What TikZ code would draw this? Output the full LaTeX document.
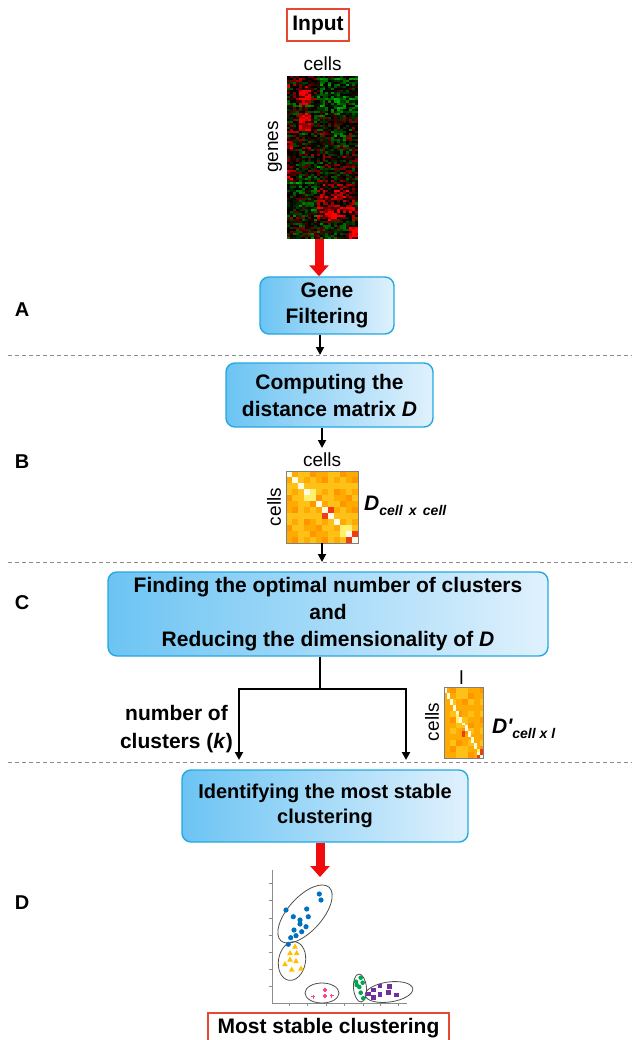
\documentclass[tikz,border=0pt]{standalone}
\usepackage{fontspec}
\setmainfont{Liberation Sans}
\usetikzlibrary{arrows.meta}

% palette
\definecolor{boxedge}{RGB}{36,168,224}
\definecolor{boxleft}{RGB}{108,196,243}
\definecolor{boxright}{RGB}{224,241,253}
\definecolor{frameRed}{RGB}{230,72,48}
\definecolor{arrowRed}{RGB}{240,12,12}
\definecolor{sepGray}{RGB}{140,140,140}
\definecolor{axisGray}{RGB}{140,140,140}
\definecolor{ringGray}{RGB}{80,80,80}
\definecolor{ptBlue}{RGB}{0,112,192}
\definecolor{ptYellow}{RGB}{255,192,0}
\definecolor{ptPink}{RGB}{255,70,120}
\definecolor{ptGreen}{RGB}{0,166,80}
\definecolor{ptPurple}{RGB}{112,48,160}
\definecolor{dOrange}{RGB}{255,170,0}
\definecolor{dLight}{RGB}{255,192,24}
\definecolor{dDark}{RGB}{255,150,0}
\definecolor{dYellow}{RGB}{255,240,110}
\definecolor{dWhite}{RGB}{255,251,228}
\definecolor{dRed}{RGB}{240,60,20}

\tikzset{
  stepbox/.style={draw=boxedge, line width=1.4pt, rounded corners=9pt,
    left color=boxleft, right color=boxright, align=center, inner sep=0pt},
  frame/.style={draw=frameRed, line width=1.3pt, inner sep=0pt,
    font=\bfseries\fontsize{21}{21}\selectfont},
  frameline/.style={frameRed, line width=1.3pt},
  flow/.style={line width=1.8pt, -{Triangle[width=8pt,length=8pt]}},
  branch/.style={line width=2.2pt},
  fat/.style={arrowRed, line width=9pt, -{Triangle[width=19pt,length=11pt]}},
  sep/.style={sepGray, line width=0.9pt, dash pattern=on 4pt off 3pt},
  panel/.style={font=\bfseries\fontsize{20}{20}\selectfont, inner sep=0pt},
  axislabel/.style={font=\fontsize{19}{19}\selectfont, inner sep=0pt},
  matname/.style={anchor=base west, inner sep=0pt, font=\bfseries\itshape\fontsize{21}{21}\selectfont},
  axis/.style={axisGray, line width=0.8pt},
  ring/.style={ringGray, line width=0.8pt},
}

\begin{document}
\begin{tikzpicture}[x=1pt,y=-1pt]
\useasboundingbox (0,0) rectangle (632,1040);

% section separators
\foreach \yy in {355,562,762} \draw[sep] (8,\yy) -- (632,\yy);

% section letters
\node[panel] (pA) at (22,310) {A};
\node[panel] (pB) at (22,462) {B};
\node[panel] (pC) at (22,603) {C};
\node[panel] (pD) at (22,903) {D};

% input
\node[frame, minimum width=62pt, minimum height=32pt] (input) at (318,25) {Input};
\node[axislabel] (hcells) at (322.5,64) {cells};
\node[axislabel, rotate=90] (hgenes) at (275,147) {genes};

% expression heat map
\node[inner sep=0pt, minimum width=71pt, minimum height=163pt] (heat) at (322.5,157.5) {};
\begin{scope}
\clip (287,76) rectangle (358,239);
\pgfmathsetseed{11}
\foreach \j in {0,...,79}{
  \pgfmathsetmacro\rl{0.45*(rnd-0.5)}
  \pgfmathsetmacro\rr{0.45*(rnd-0.5)}
  \foreach \i in {0,...,23}{
    \pgfmathsetmacro\b{0.2*(\i<10)*(\j<13)
      +0.85*(\i>3)*(\i<8)*(\j>6)*(\j<14)
      +0.85*(\i>3)*(\i<8)*(\j>17)*(\j<27)
      +0.6*(\i<2)*(\j>31)*(\j<37)
      +0.6*(\i<2)*(\j>43)*(\j<51)
      -0.3*(\i>9)*(\j<17)
      -0.4*(\i>14)*(\i<20)*(\j>26)*(\j<32)
      -0.25*(\i<10)*(\j>49)*(\j<69)
      +0.35*(\i>9)*(\i<23)*(\j>52)*(\j<71)
      +1.0*(\i>20)*(\j>73)
      +0.7*(\i>13)*(\i<17)*(\j>66)*(\j<71)
      -0.6*(\i>9)*(\i<12)*(\j>41)*(\j<45)}
    \pgfmathsetmacro\v{\b+(\i<10)*(\rl)+(\i>9)*(\rr)+1.1*(rnd-0.5)}
    \pgfmathsetmacro\rc{min(1,1.1*max(0,\v-0.06))}
    \pgfmathsetmacro\gc{0.7*min(1,1.1*max(0,-\v-0.06))}
    \definecolor{hm}{rgb}{\rc,\gc,0}
    \fill[hm] ({287+2.96*\i},{76+2.04*\j}) rectangle ++(3.3,2.4);
  }
}
\end{scope}

% step A
\node[stepbox, minimum width=134pt, minimum height=57pt,
  font=\bfseries\fontsize{21}{26}\selectfont] (gf) at (327,305.5) {Gene\\Filtering};
\coordinate (redIn) at (319,277);
\draw[fat] (heat.south -| redIn) -- (redIn |- gf.north);
\coordinate (sepA) at (320,355);
\draw[flow] (gf.south -| sepA) -- (sepA);

% step B
\node[stepbox, minimum width=207pt, minimum height=64pt,
  font=\bfseries\fontsize{21}{27}\selectfont] (comp) at (329.5,395)
  {Computing the\\distance matrix \textit{D}};
\coordinate (dIn) at (322,448);
\draw[flow] (comp.south -| dIn) -- (dIn);

\node[axislabel] (dcellsT) at (322,460) {cells};
\node[axislabel, rotate=90] (dcellsL) at (274,507) {cells};
\node[inner sep=0pt, minimum size=72pt] (dmat) at (322,507) {};
\foreach \i in {0,...,11}{
  \foreach \j in {0,...,11}{
    \pgfmathtruncatemacro\h{mod(3*(\i+\j)+\i*\j,5)}
    \pgfmathtruncatemacro\key{\i*100+\j}
    \edef\cc{\ifcase\h dOrange\or dLight\or dDark\or dOrange\else dLight\fi}
    \ifnum\i=\j \def\cc{dWhite}\fi
    \ifnum\key=404 \def\cc{dYellow}\fi
    \ifnum\key=909 \def\cc{dYellow}\fi
    \ifnum\key=304 \def\cc{dYellow}\fi
    \ifnum\key=403 \def\cc{dYellow}\fi
    \ifnum\key=910 \def\cc{dYellow}\fi
    \ifnum\key=1009 \def\cc{dYellow}\fi
    \ifnum\key=706 \def\cc{dRed}\fi
    \ifnum\key=607 \def\cc{dRed}\fi
    \ifnum\key=1110 \def\cc{dRed}\fi
    \ifnum\key=1011 \def\cc{dRed}\fi
    \fill[\cc] ({286+6*\i},{471+6*\j}) rectangle ++(6,6);
  }
}
\draw[gray, line width=0.6pt] (dmat.north west) rectangle (dmat.south east);
\node[matname] (dname) at (364,510) {D\raisebox{-5pt}{\fontsize{14}{14}\selectfont cell\,\ x\ \,cell}};
\coordinate (sepB) at (322,562);
\draw[flow] (dmat.south -| sepB) -- (sepB);

% step C
\node[stepbox, minimum width=440pt, minimum height=84pt,
  font=\bfseries\fontsize{21}{27}\selectfont] (cbox) at (328,614)
  {Finding the optimal number of clusters\\and\\Reducing the dimensionality of \textit{D}};
\coordinate (split) at (320,689);
\coordinate (kEnd) at (239,760);
\coordinate (lEnd) at (406,760);
\draw[branch] (cbox.south -| split) -- (split);
\draw[branch, -{Triangle[width=8pt,length=8pt]}] (split) -| (kEnd);
\draw[branch, -{Triangle[width=8pt,length=8pt]}] (split) -| (lEnd);
\node[align=center, inner sep=0pt, font=\bfseries\fontsize{21}{28}\selectfont] (knum)
  at (176.5,729) {number of\\clusters (\textit{k})};

% reduced matrix
\node[inner sep=0pt, minimum width=39pt, minimum height=71pt] (dpmat) at (463.5,722.5) {};
\foreach \i in {0,...,12}{
  \foreach \j in {0,...,23}{
    \pgfmathtruncatemacro\h{mod(2*floor(\i/2)+5*floor(\j/2)+floor(\i/2)*floor(\j/2),5)}
    \pgfmathtruncatemacro\dg{floor(\j*13/24)}
    \pgfmathtruncatemacro\key{\i*100+\j}
    \edef\cc{\ifcase\h dOrange\or dLight\or dDark\or dOrange\else dLight\fi}
    \ifnum\i=\dg \def\cc{dWhite}\fi
    \ifnum\key=409 \def\cc{dYellow}\fi
    \ifnum\key=410 \def\cc{dYellow}\fi
    \ifnum\key=411 \def\cc{dYellow}\fi
    \ifnum\key=1121 \def\cc{dYellow}\fi
    \ifnum\key=615 \def\cc{dRed}\fi
    \ifnum\key=616 \def\cc{dRed}\fi
    \ifnum\key=1221 \def\cc{dRed}\fi
    \ifnum\key=1222 \def\cc{dRed}\fi
    \ifnum\key=1123 \def\cc{dRed}\fi
    \fill[\cc] ({444+3*\i},{687+2.9583*\j}) rectangle ++(3,2.9583);
  }
}
\draw[gray, line width=0.6pt] (dpmat.north west) rectangle (dpmat.south east);
\node[axislabel] (dpl) at (461.5,678) {l};
\node[axislabel, rotate=90] (dpcells) at (432,722) {cells};
\node[matname] (dpname) at (492,733) {D\textquotesingle\raisebox{-5pt}{\fontsize{14}{14}\selectfont cell\ x\ l}};

% step D
\node[stepbox, minimum width=286pt, minimum height=72pt,
  font=\bfseries\fontsize{20}{25}\selectfont] (idbox) at (325,806)
  {Identifying the most stable\\clustering};
\coordinate (plotTop) at (320,877);
\draw[fat] (idbox.south -| plotTop) -- (plotTop);

% scatter plot of the final clusters
\draw[axis] (272,870) -- (272,1003) -- (407,1003);
\foreach \t in {883,900.5,918,935,952,969,986.5} \draw[axis] (268.5,\t) -- (272,\t);
\foreach \t in {289,307,326,344,363,380,398} \draw[axis] (\t,1003) -- (\t,1006);

\draw[ring, rotate around={48:(305,914)}] (305,914) ellipse [x radius=36, y radius=17];
\draw[ring, rotate around={80:(292,961)}] (292,961) ellipse [x radius=19.5, y radius=13.5];
\draw[ring] (322,993) ellipse [x radius=17, y radius=10];
\draw[ring, rotate around={95:(360,988)}] (360,988) ellipse [x radius=14, y radius=6.5];
\draw[ring, rotate around={8:(389,992)}] (389,992) ellipse [x radius=24, y radius=10];

\foreach \p in {(319.3,894),(321,900),(286,910),(306.7,909),(293.3,916.7),(308.3,916.7),
  (300,920),(300,924),(306,926.7),(294,930),(301.7,931.7),(296,935.7),(290.7,937.7),(288.3,944.3)}
  \fill[ptBlue] \p circle (2.6);
\foreach \p in {(295,946.5),(290,953),(296.7,953),(290,959.5),(296,961),(285,964),(291.7,969.5),(301,968.5)}
  \fill[ptYellow] \p ++(0,-3) -- ++(2.9,5.2) -- ++(-5.8,0) -- cycle;
\foreach \p in {(313.3,996.7),(325,990),(325,996),(331.7,995.7)}
  \draw[ptPink, line width=1.1pt] \p ++(-2,0) -- ++(4,0) \p ++(0,-2) -- ++(0,4);
\foreach \p in {(356,981.7),(360.7,977.7),(362.7,982.7),(359.3,987),(356.7,985),(360.7,992.7),(363.3,998.3)}
  \fill[ptGreen] \p circle (2.3);
\foreach \p in {(373.3,990),(380,986),(389.3,986.7),(380,994.3),(388.3,992.7),(396.7,995),(368.3,994),(373.3,997.7)}
  \fill[ptPurple] \p ++(-2.3,-2.3) rectangle ++(4.6,4.6);

% output: the frame runs on past the lower edge
\node[inner sep=0pt, font=\bfseries\fontsize{21}{21}\selectfont] (output) at (328.5,1028) {Most stable clustering};
\draw[frameline] ([yshift=-20pt]output.south west -| 208,0) -- (208,1013) -- (449,1013) -- ([yshift=-20pt]output.south east -| 449,0);
\end{tikzpicture}
\end{document}
